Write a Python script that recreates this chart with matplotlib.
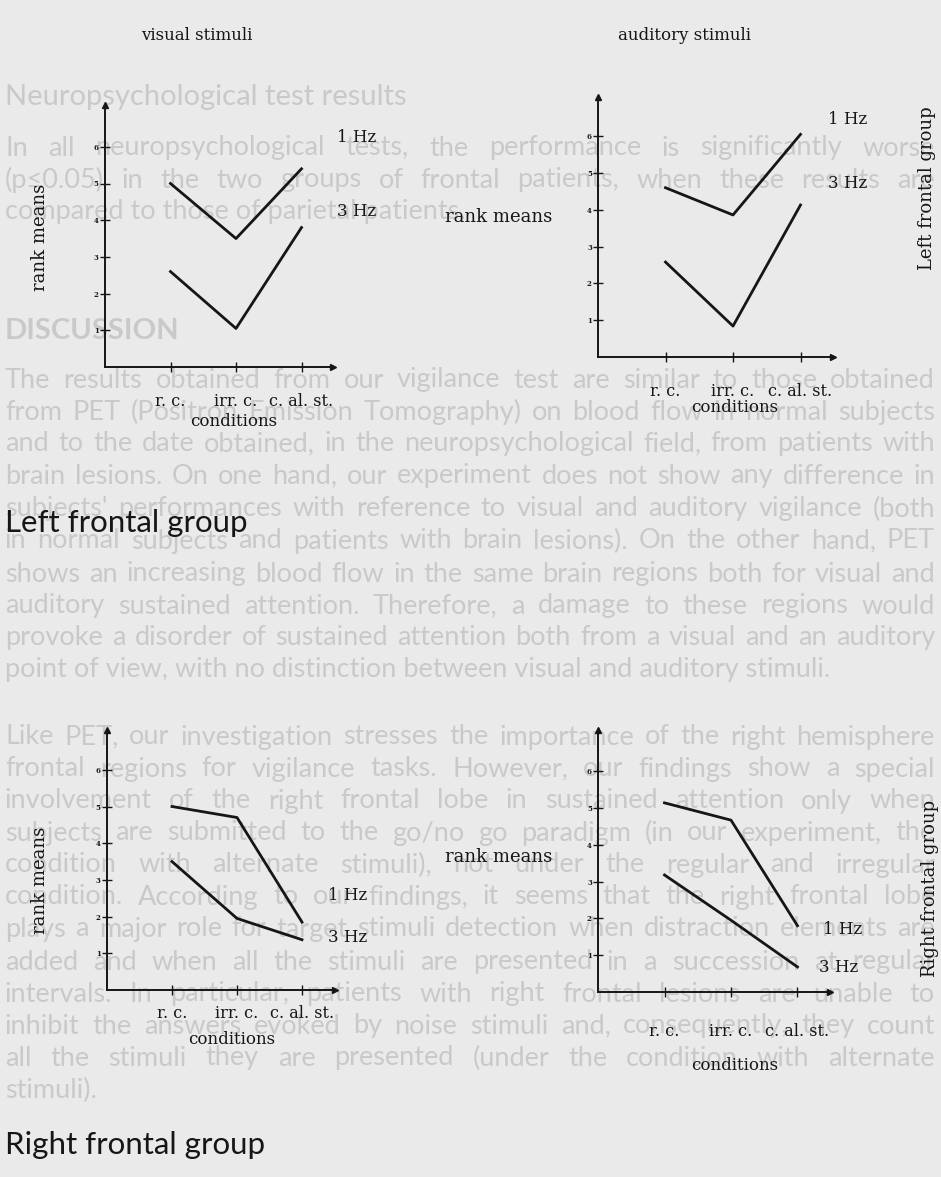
import numpy as np
import matplotlib
matplotlib.use("Agg")
import matplotlib.pyplot as plt

# data (rank means per condition)
categories = ['r. c.', 'irr. c.', 'c. al. st.']
left_visual_1hz = [5.0, 3.5, 5.4]
left_visual_3hz = [2.6, 1.05, 3.8]
left_auditory_1hz = [4.6, 3.86, 6.05]
left_auditory_3hz = [2.58, 0.84, 4.13]
right_visual_1hz = [5.0, 4.7, 1.85]
right_visual_3hz = [3.5, 1.95, 1.37]
right_auditory_1hz = [5.14, 4.67, 1.8]
right_auditory_3hz = [3.18, 1.95, 0.68]
yticks = [1, 2, 3, 4, 5, 6]

W, H = 941, 1177
INK = '#161616'
FAINT = '#c9c9c9'
SERIF = ['DejaVu Serif']
SANS = ['Lato', 'DejaVu Sans']
BODY_SIZE = 19.5

fig = plt.figure(figsize=(W / 100, H / 100), dpi=100, facecolor='#eaeaea')


def fx(x):
    return x / W


def fy(y):
    return 1 - y / H


# faint show-through text of the printed page
body = [
    ("In all neuropsychological tests, the performance is significantly worse", 148, False),
    ("(p≤0.05) in the two groups of frontal patients, when these results are", 180, False),
    ("compared to those of parietal patients.", 211, True),
    ("The results obtained from our vigilance test are similar to those obtained", 380, False),
    ("from PET (Positron Emission Tomography) on blood flow in normal subjects", 412, False),
    ("and to the date obtained, in the neuropsychological field, from patients with", 444, False),
    ("brain lesions. On one hand, our experiment does not show any difference in", 476, False),
    ("subjects' performances with reference to visual and auditory vigilance (both", 509, False),
    ("in normal subjects and patients with brain lesions). On the other hand, PET", 541, False),
    ("shows an increasing blood flow in the same brain regions both for visual and", 574, False),
    ("auditory sustained attention. Therefore, a damage to these regions would", 606, False),
    ("provoke a disorder of sustained attention both from a visual and an auditory", 638, False),
    ("point of view, with no distinction between visual and auditory stimuli.", 670, True),
    ("Like PET, our investigation stresses the importance of the right hemisphere", 737, False),
    ("frontal regions for vigilance tasks. However, our findings show a special", 769, False),
    ("involvement of the right frontal lobe in sustained attention only when", 801, False),
    ("subjects are submitted to the go/no go paradigm (in our experiment, the", 833, False),
    ("condition with alternate stimuli), not under the regular and irregular", 865, False),
    ("condition. According to our findings, it seems that the right frontal lobe", 897, False),
    ("plays a major role for target stimuli detection when distraction elements are", 929, False),
    ("added and when all the stimuli are presented in a succession at regular", 962, False),
    ("intervals. In particular, patients with right frontal lesions are unable to", 994, False),
    ("inhibit the answers evoked by noise stimuli and, consequently, they count", 1026, False),
    ("all the stimuli they are presented (under the condition with alternate", 1058, False),
    ("stimuli).", 1090, True),
]

renderer = fig.canvas.get_renderer()
fig.text(fx(5), fy(97), "Neuropsychological test results", family=SANS, fontsize=21,
         color=FAINT, va='center', zorder=-1)
fig.text(fx(5), fy(331), "DISCUSSION", family=SANS, fontsize=21, weight='bold',
         color=FAINT, va='center', zorder=-1)
for line, y, last in body:
    if last:
        fig.text(fx(5), fy(y), line, family=SANS, fontsize=BODY_SIZE, color=FAINT,
                 va='center', zorder=-1)
        continue
    words = line.split()
    objs = [fig.text(0, fy(y), w, family=SANS, fontsize=BODY_SIZE, color=FAINT,
                     va='center', zorder=-1) for w in words]
    widths = [o.get_window_extent(renderer).width for o in objs]
    need = sum(widths) + 5 * (len(words) - 1)
    if need > 930:
        size = BODY_SIZE * 930 / need
        for o in objs:
            o.set_fontsize(size)
        widths = [o.get_window_extent(renderer).width for o in objs]
    gap = (930 - sum(widths)) / (len(words) - 1)
    x = 5
    for o, w in zip(objs, widths):
        o.set_x(fx(x))
        x += w + gap

# panel layout in pixels: origin x, origin y, px per x unit, px per y unit, xmax, ymax
panels = [
    dict(box=(105, 367, 65.5, 36.7, 3.48, 7.14), one=left_visual_1hz, three=left_visual_3hz,
         hz1=(337, 137), hz3=(337, 212), pad=15, xlab=(234, 422), ylab='v', ylab_pos=(40, 237)),
    dict(box=(598, 357, 67.5, 36.8, 3.48, 7.07), one=left_auditory_1hz, three=left_auditory_3hz,
         hz1=(828, 120), hz3=(828, 184), pad=15, xlab=(735, 408), ylab='h', ylab_pos=(552, 217)),
    dict(box=(107, 990, 65.0, 36.7, 3.50, 7.08), one=right_visual_1hz, three=right_visual_3hz,
         hz1=(328, 895), hz3=(328, 938), pad=7, xlab=(232, 1040), ylab='v', ylab_pos=(40, 880)),
    dict(box=(598, 992, 66.5, 36.8, 3.49, 7.12), one=right_auditory_1hz, three=right_auditory_3hz,
         hz1=(823, 929), hz3=(819, 968), pad=18.7, xlab=(735, 1065), ylab='h', ylab_pos=(552, 857)),
]

for p in panels:
    ox, oy, ux, uy, xmax, ymax = p['box']
    ax = fig.add_axes([fx(ox), fy(oy), xmax * ux / W, ymax * uy / H])
    ax.set_xlim(0, xmax)
    ax.set_ylim(0, ymax)
    ax.patch.set_alpha(0)
    for s in ('top', 'right'):
        ax.spines[s].set_visible(False)
    for s in ('left', 'bottom'):
        ax.spines[s].set_linewidth(1.4)
        ax.spines[s].set_color(INK)
    ax.plot(1, 0, '>', transform=ax.get_yaxis_transform(), clip_on=False, color=INK, ms=4)
    ax.plot(0, 1, '^', transform=ax.get_xaxis_transform(), clip_on=False, color=INK, ms=4)

    x = np.arange(1, len(categories) + 1)
    ax.plot(x, p['one'], color=INK, lw=2.0)
    ax.plot(x, p['three'], color=INK, lw=2.0)

    ax.set_yticks(yticks, [str(v) for v in yticks], fontsize=5, weight='bold', family=SERIF)
    ax.set_xticks(x, categories, fontsize=11.5, family=SERIF, color=INK)
    ax.tick_params(axis='y', direction='inout', length=7, width=1, pad=1, colors=INK)
    ax.tick_params(axis='x', direction='inout', length=7, width=1, pad=p['pad'], colors=INK)

    def dx(px):
        return (px - ox) / ux

    def dy(py):
        return (oy - py) / uy

    ax.text(dx(p['hz1'][0]), dy(p['hz1'][1]), '1 Hz', fontsize=12, family=SERIF,
            color=INK, va='center')
    ax.text(dx(p['hz3'][0]), dy(p['hz3'][1]), '3 Hz', fontsize=12, family=SERIF,
            color=INK, va='center')

    ax.set_xlabel('conditions', fontsize=12, family=SERIF, color=INK, va='center')
    ax.xaxis.set_label_coords(dx(p['xlab'][0]) / xmax, dy(p['xlab'][1]) / ymax)

    if p['ylab'] == 'v':
        ax.set_ylabel('rank means', fontsize=13, family=SERIF, color=INK, va='center')
        ax.yaxis.set_label_coords(dx(p['ylab_pos'][0]) / xmax, dy(p['ylab_pos'][1]) / ymax)
    else:
        ax.text(dx(p['ylab_pos'][0]), dy(p['ylab_pos'][1]), 'rank means', fontsize=13,
                family=SERIF, color=INK, ha='right', va='center')

fig.text(fx(197), fy(35), 'visual stimuli', fontsize=12, family=SERIF, color=INK,
         ha='center', va='center')
fig.text(fx(685), fy(35), 'auditory stimuli', fontsize=12, family=SERIF, color=INK,
         ha='center', va='center')
fig.text(fx(927), fy(188), 'Left frontal group', fontsize=13, family=SERIF, color=INK,
         rotation=90, ha='center', va='center')
fig.text(fx(930), fy(888), 'Right frontal group', fontsize=13, family=SERIF, color=INK,
         rotation=90, ha='center', va='center')
fig.text(fx(5), fy(523), 'Left frontal group', fontsize=22.5, family=SANS, color=INK,
         ha='left', va='center')
fig.text(fx(5), fy(1145), 'Right frontal group', fontsize=22.5, family=SANS, color=INK,
         ha='left', va='center')

fig.savefig('out.png', dpi=100, facecolor=fig.get_facecolor())
